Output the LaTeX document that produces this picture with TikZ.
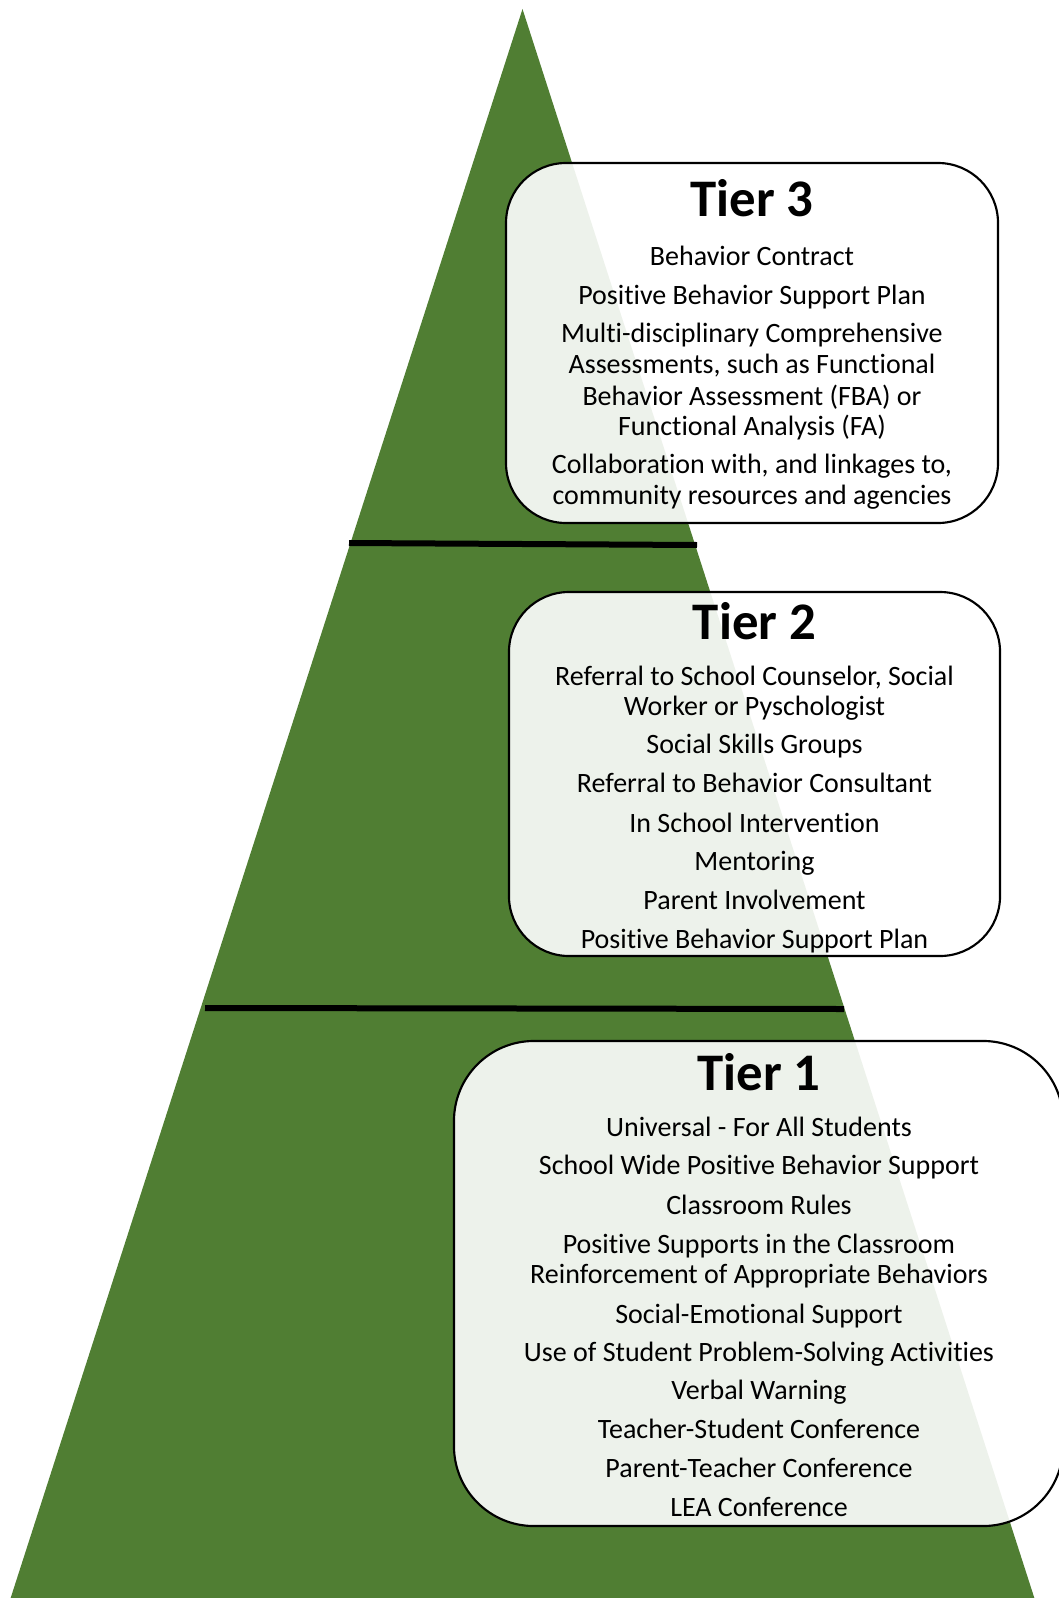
\documentclass[tikz,border=0pt]{standalone}
\usepackage{fontspec}
\setmainfont{Carlito}[Ligatures={NoCommon}]
\definecolor{pyrgreen}{HTML}{507E33}
\tikzset{
  tierline/.style={line width=4.5pt},
  tierbox/.style={draw=black, line width=1.6pt, fill=white, fill opacity=0.9, rounded corners=45pt, inner sep=0pt},
  tiertitle/.style={anchor=base, inner sep=0pt, font=\fontsize{39.6pt}{46pt}\selectfont\bfseries},
  bodyline/.style={anchor=base, inner sep=0pt, font=\fontsize{21.0pt}{25pt}\selectfont}
}
\begin{document}
\begin{tikzpicture}[x=0.75pt,y=-0.75pt]
\useasboundingbox (0,0) rectangle (1059,1598);
\begin{scope}
\clip (0,0) rectangle (1059,1598);
% pyramid
\coordinate (apex) at (522.5,9);
\coordinate (bl) at (10,1600);
\coordinate (br) at (1035,1600);
\fill[pyrgreen] (apex) -- (br) -- (bl) -- cycle;
% tier dividers
\coordinate (d1a) at (349,543);
\coordinate (d1b) at (697,545);
\coordinate (d2a) at (205,1008);
\coordinate (d2b) at (844,1009);
\draw[tierline] (d1a) -- (d1b);
\draw[tierline] (d2a) -- (d2b);
% boxes
\node[tierbox, minimum width=369pt, minimum height=270pt] (box3) at (752,343) {};
\node[tierbox, minimum width=368.3pt, minimum height=273pt] (box2) at (754.5,774) {};
\node[tierbox, minimum width=456.8pt, minimum height=363.8pt, rounded corners=60pt] (box1) at (758.5,1283.5) {};
\end{scope}
% Tier 3
\node[tiertitle] (t3) at (752,216) {Tier 3};
\node[bodyline] (t3a) at (752,265) {Behavior Contract};
\node[bodyline] (t3b) at (752,304) {Positive Behavior Support Plan};
\node[bodyline] (t3c) at (752,342) {Multi-disciplinary Comprehensive};
\node[bodyline] (t3d) at (752,373) {Assessments, such as Functional};
\node[bodyline] (t3e) at (752,405) {Behavior Assessment (FBA) or};
\node[bodyline] (t3f) at (752,435) {Functional Analysis (FA)};
\node[bodyline] (t3g) at (752,473) {Collaboration with, and linkages to,};
\node[bodyline] (t3h) at (752,504) {community resources and agencies};
% Tier 2
\node[tiertitle] (t2) at (754.5,639) {Tier 2};
\node[bodyline] (t2a) at (754.5,685) {Referral to School Counselor, Social};
\node[bodyline] (t2b) at (754.5,715) {Worker or Pyschologist};
\node[bodyline] (t2c) at (754.5,753) {Social Skills Groups};
\node[bodyline] (t2d) at (754.5,792) {Referral to Behavior Consultant};
\node[bodyline] (t2e) at (754.5,832) {In School Intervention};
\node[bodyline] (t2f) at (754.5,870) {Mentoring};
\node[bodyline] (t2g) at (754.5,909) {Parent Involvement};
\node[bodyline] (t2h) at (754.5,948) {Positive Behavior Support Plan};
% Tier 1
\node[tiertitle] (t1) at (759,1090) {Tier 1};
\node[bodyline] (t1a) at (759,1136) {Universal - For All Students};
\node[bodyline] (t1b) at (759,1174) {School Wide Positive Behavior Support};
\node[bodyline] (t1c) at (759,1214) {Classroom Rules};
\node[bodyline] (t1d) at (759,1253) {Positive Supports in the Classroom};
\node[bodyline] (t1e) at (759,1283) {Reinforcement of Appropriate Behaviors};
\node[bodyline] (t1f) at (759,1323) {Social-Emotional Support};
\node[bodyline] (t1g) at (759,1361) {Use of Student Problem-Solving Activities};
\node[bodyline] (t1h) at (759,1399) {Verbal Warning};
\node[bodyline] (t1i) at (759,1438) {Teacher-Student Conference};
\node[bodyline] (t1j) at (759,1477) {Parent-Teacher Conference};
\node[bodyline] (t1k) at (759,1516) {LEA Conference};
\end{tikzpicture}
\end{document}
